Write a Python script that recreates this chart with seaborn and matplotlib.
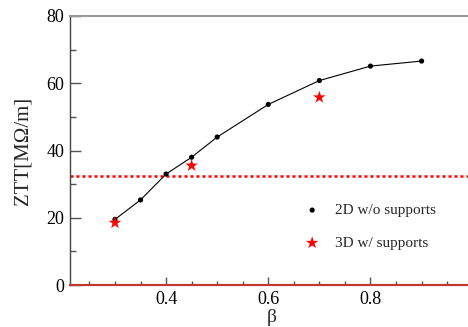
import matplotlib
matplotlib.use("Agg")
import matplotlib.pyplot as plt
import seaborn as sns
import pandas as pd
from matplotlib.ticker import MultipleLocator

beta_2d = [0.3, 0.35, 0.4, 0.45, 0.5, 0.6, 0.7, 0.8, 0.9]
ztt_2d = [19.5, 25.3, 33.0, 38.0, 44.0, 53.7, 60.8, 65.1, 66.6]
beta_3d = [0.3, 0.45, 0.7]
ztt_3d = [18.5, 35.5, 55.8]
ref_level = 32.5

sns.set_theme(style="white")
plt.rcParams['font.family'] = ['Liberation Serif', 'DejaVu Serif']

fig = plt.figure(figsize=(4.68, 3.27), dpi=100)
ax = fig.add_axes([70/468, 1 - 285/327, 1 - 70/468 + 0.01, (285 - 16)/327])

df2 = pd.DataFrame({"beta": beta_2d, "ztt": ztt_2d})
df3 = pd.DataFrame({"beta": beta_3d, "ztt": ztt_3d})

sns.lineplot(data=df2, x="beta", y="ztt", ax=ax, color="black", lw=0.8, zorder=2)
sns.scatterplot(data=df2, x="beta", y="ztt", ax=ax, color="black", s=14,
                edgecolor="none", zorder=3, label="2D w/o supports")
sns.scatterplot(data=df3, x="beta", y="ztt", ax=ax, color="red", marker="*", s=90,
                edgecolor="none", zorder=4, label="3D w/ supports")
ax.axhline(ref_level, color="red", ls=(0, (1.2, 1.2)), lw=1.8, zorder=1)
ax.axhline(0, color="#c0392b", lw=1.5, zorder=5, clip_on=False)

ax.set_xlim(0.212, 1.0)
ax.set_ylim(0, 80)
ax.xaxis.set_major_locator(MultipleLocator(0.2))
ax.xaxis.set_minor_locator(MultipleLocator(0.05))
ax.yaxis.set_major_locator(MultipleLocator(20))
ax.yaxis.set_minor_locator(MultipleLocator(10))
ax.set_xticks([0.4, 0.6, 0.8])
ax.set_xticklabels(["0.4", "0.6", "0.8"])

ax.tick_params(axis="both", which="major", direction="in", length=8, width=1,
               color="#555555", labelsize=13, labelcolor="black", pad=4)
ax.tick_params(axis="both", which="minor", direction="in", length=4, width=1,
               color="#555555")
ax.tick_params(axis="x", which="major", length=6)
ax.tick_params(axis="x", which="minor", length=3)
ax.tick_params(left=True, bottom=True, which="both")

ax.spines["right"].set_visible(False)
ax.spines["top"].set_color("#999999")
ax.spines["top"].set_linewidth(1.5)
ax.spines["left"].set_color("#444444")
ax.spines["left"].set_linewidth(1)
ax.spines["bottom"].set_color("#c0392b")
ax.spines["bottom"].set_linewidth(1.5)

ax.set_xlabel("β", fontsize=14, labelpad=1)
ax.set_ylabel("ZTT[MΩ/m]", fontsize=15, labelpad=10)

leg = ax.legend(loc="upper left", frameon=False,
                fontsize=11, handletextpad=0.5, labelspacing=1.25)
leg.set_bbox_to_anchor((0.605, 0.42), transform=fig.transFigure)

fig.savefig("out.png", dpi=100)
